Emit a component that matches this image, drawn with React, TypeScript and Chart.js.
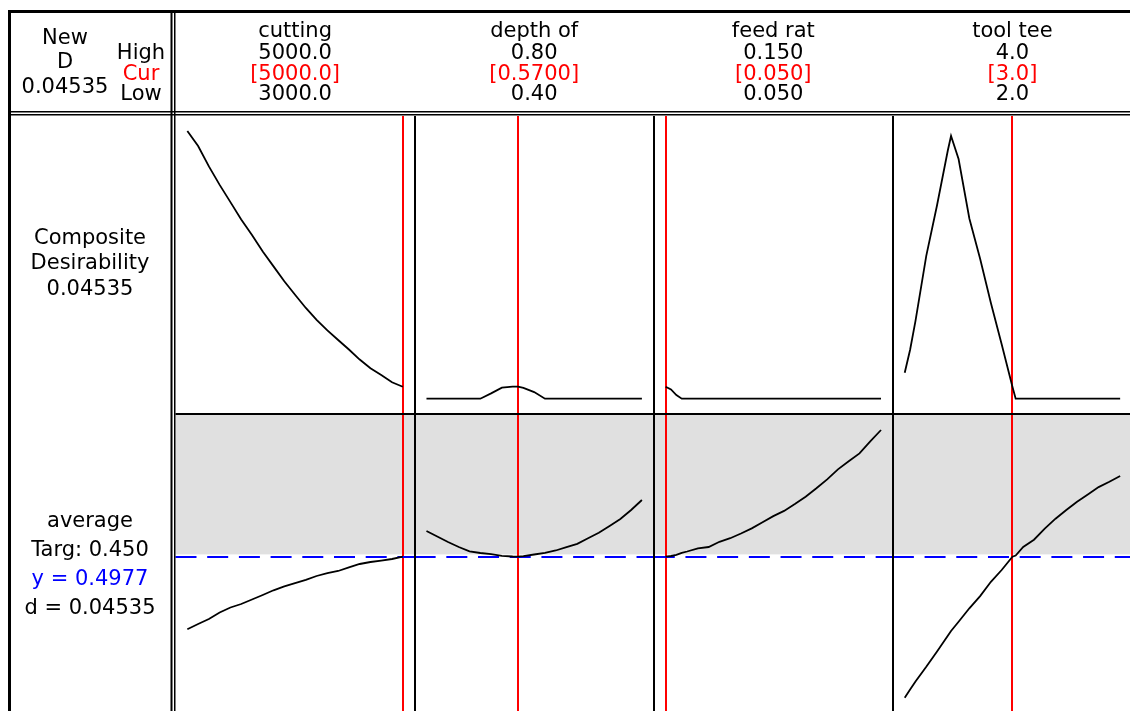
import React, { useEffect, useRef } from 'react';
import { Chart, registerables } from 'chart.js';

Chart.register(...registerables);

// ---- Header / factor info ----
const FACTOR_NAMES = ['cutting', 'depth of', 'feed rat', 'tool tee'];
const HIGH_LABELS = ['5000.0', '0.80', '0.150', '4.0'];
const CUR_LABELS = ['[5000.0]', '[0.5700]', '[0.050]', '[3.0]'];
const LOW_LABELS = ['3000.0', '0.40', '0.050', '2.0'];
const LOWS = [3000, 0.4, 0.05, 2.0];
const HIGHS = [5000, 0.8, 0.15, 4.0];
const CURRENT = [5000, 0.57, 0.05, 3.0];

const NEW_D_LABELS = ['New', 'D', '0.04535'];
const HCL_LABELS = ['High', 'Cur', 'Low'];
const COMPOSITE_LABELS = ['Composite', 'Desirability', '0.04535'];
const RESPONSE_LABELS = ['average', 'Targ: 0.450', 'y = 0.4977', 'd = 0.04535'];

const Y_PRED = 0.4977;
const UPPER_LIMIT = 0.5;

// ---- cutting ----
const CUTTING_X = [3000, 3100, 3200, 3300, 3400, 3500, 3600, 3700, 3800, 3900, 4000, 4100, 4200, 4300, 4400, 4500, 4600, 4700, 4800, 4900, 5000];
const CUTTING_D = [1.012, 0.955, 0.878, 0.808, 0.743, 0.677, 0.619, 0.556, 0.5, 0.444, 0.393, 0.343, 0.298, 0.258, 0.222, 0.186, 0.148, 0.115, 0.09, 0.062, 0.04535];
const CUTTING_AVG = [0.4251, 0.4304, 0.4354, 0.4419, 0.4469, 0.4504, 0.4549, 0.4594, 0.4641, 0.468, 0.4712, 0.4746, 0.4784, 0.4812, 0.4834, 0.4871, 0.4904, 0.4924, 0.4938, 0.4954, 0.4977];

// ---- depth of ----
const DEPTH_X = [0.4, 0.42, 0.44, 0.46, 0.48, 0.5, 0.52, 0.54, 0.56, 0.57, 0.58, 0.6, 0.62, 0.64, 0.66, 0.68, 0.7, 0.72, 0.74, 0.76, 0.78, 0.8];
const DEPTH_D = [0, 0, 0, 0, 0, 0, 0.02, 0.042, 0.0453, 0.04535, 0.041, 0.025, 0, 0, 0, 0, 0, 0, 0, 0, 0, 0];
const DEPTH_AVG = [0.5234, 0.5179, 0.5124, 0.5074, 0.5031, 0.5014, 0.5002, 0.4986, 0.4979, 0.4977, 0.4982, 0.4999, 0.5016, 0.5039, 0.5072, 0.5106, 0.5161, 0.5217, 0.5284, 0.5354, 0.5444, 0.5544];

// ---- feed rat ----
const FEED_X = [0.05, 0.0525, 0.055, 0.0575, 0.06, 0.065, 0.07, 0.075, 0.08, 0.085, 0.09, 0.095, 0.1, 0.105, 0.11, 0.115, 0.12, 0.125, 0.13, 0.135, 0.14, 0.145, 0.15];
const FEED_D = [0.04535, 0.035, 0.014, 0, 0, 0, 0, 0, 0, 0, 0, 0, 0, 0, 0, 0, 0, 0, 0, 0, 0, 0, 0];
const FEED_AVG = [0.4977, 0.4984, 0.4996, 0.5016, 0.5029, 0.5061, 0.5074, 0.5126, 0.5162, 0.5209, 0.526, 0.5322, 0.5383, 0.5435, 0.5503, 0.5577, 0.5661, 0.575, 0.585, 0.5931, 0.601, 0.6131, 0.6244];

// ---- tool tee ----
const TOOL_X = [2.0, 2.05, 2.1, 2.2, 2.3, 2.4, 2.43, 2.5, 2.6, 2.7, 2.8, 2.9, 3.0, 3.03, 3.1, 3.2, 3.3, 3.4, 3.5, 3.6, 3.7, 3.8, 3.9, 4.0];
const TOOL_D = [0.098, 0.185, 0.294, 0.54, 0.731, 0.938, 0.993, 0.906, 0.681, 0.529, 0.362, 0.206, 0.04535, 0, 0, 0, 0, 0, 0, 0, 0, 0, 0, 0];
const TOOL_AVG = [0.3567, 0.3649, 0.373, 0.3876, 0.4029, 0.4187, 0.4234, 0.4327, 0.4461, 0.4583, 0.4726, 0.4844, 0.4977, 0.4988, 0.5074, 0.5147, 0.5258, 0.5357, 0.5444, 0.5527, 0.56, 0.5673, 0.5726, 0.5784];

const X_IDS = ['x0', 'x1', 'x2', 'x3'];
const FONT = '21px "DejaVu Sans", Verdana, sans-serif';

export default function App() {
  const ref = useRef<HTMLCanvasElement>(null);

  useEffect(() => {
    const canvas = ref.current;
    if (!canvas) return;

    const series = [
      { x: CUTTING_X, d: CUTTING_D, y: CUTTING_AVG },
      { x: DEPTH_X, d: DEPTH_D, y: DEPTH_AVG },
      { x: FEED_X, d: FEED_D, y: FEED_AVG },
      { x: TOOL_X, d: TOOL_D, y: TOOL_AVG },
    ];

    const datasets: any[] = [];
    series.forEach((s, i) => {
      const common = {
        xAxisID: X_IDS[i],
        borderColor: '#000000',
        borderWidth: 1.8,
        pointRadius: 0,
        fill: false,
        tension: 0,
      };
      datasets.push({ ...common, yAxisID: 'yD', data: s.x.map((v, k) => ({ x: v, y: s.d[k] })) });
      datasets.push({ ...common, yAxisID: 'yR', data: s.x.map((v, k) => ({ x: v, y: s.y[k] })) });
    });

    const scales: any = {
      yR: { type: 'linear', position: 'left', stack: 'rows', stackWeight: 1, min: 0.3434, max: 0.6409, display: false },
      yD: { type: 'linear', position: 'left', stack: 'rows', stackWeight: 1, min: -0.0559, max: 1.0684, display: false },
    };
    X_IDS.forEach((id, i) => {
      const r = HIGHS[i] - LOWS[i];
      scales[id] = {
        type: 'linear',
        position: 'bottom',
        stack: 'cols',
        stackWeight: 1,
        min: LOWS[i] - 0.055 * r,
        max: HIGHS[i] + 0.055 * r,
        display: false,
      };
    });

    const decor = {
      id: 'decor',
      beforeDraw(chart: any) {
        const ctx = chart.ctx;
        const { left, right } = chart.chartArea;
        ctx.save();
        ctx.fillStyle = '#ffffff';
        ctx.fillRect(0, 0, chart.width, chart.height);
        const yR = chart.scales.yR;
        const yl = yR.getPixelForValue(UPPER_LIMIT);
        ctx.fillStyle = '#e0e0e0';
        ctx.fillRect(left, yR.top, right - left, yl - yR.top);
        ctx.restore();
      },
      beforeDatasetsDraw(chart: any) {
        const ctx = chart.ctx;
        const { top, bottom } = chart.chartArea;
        ctx.save();
        // current-setting lines
        ctx.fillStyle = '#ff0000';
        X_IDS.forEach((id, i) => {
          const xs = chart.scales[id];
          const px = Math.round(xs.getPixelForValue(CURRENT[i]));
          ctx.fillRect(px - 1, top, 2, bottom - top);
        });
        // predicted response dashed line
        const yR = chart.scales.yR;
        const py = Math.round(yR.getPixelForValue(Y_PRED));
        ctx.strokeStyle = '#0000ff';
        ctx.lineWidth = 2;
        ctx.setLineDash([21, 10.7]);
        X_IDS.forEach((id) => {
          const xs = chart.scales[id];
          ctx.beginPath();
          ctx.moveTo(xs.left, py);
          ctx.lineTo(xs.right, py);
          ctx.stroke();
        });
        ctx.restore();
      },
      afterDraw(chart: any) {
        const ctx = chart.ctx;
        const { left, right, top, bottom } = chart.chartArea;
        const W = chart.width;
        ctx.save();
        ctx.fillStyle = '#000000';
        // outer frame
        ctx.fillRect(8, 10, W - 8, 3);
        ctx.fillRect(8, 10, 3, chart.height - 10);
        // left column double line
        ctx.fillRect(170.5, 12, 2, chart.height - 12);
        ctx.fillRect(174, 12, 1.5, chart.height - 12);
        // header bottom double line
        ctx.fillRect(8, 111, W - 8, 1.5);
        ctx.fillRect(8, 114, W - 8, 1.5);
        // panel dividers
        X_IDS.forEach((id, i) => {
          if (i === 0) return;
          const xs = chart.scales[id];
          ctx.fillRect(Math.round(xs.left) - 1, top, 2, bottom - top);
        });
        // row divider
        const yR = chart.scales.yR;
        ctx.fillRect(left, Math.round(yR.top) - 1, right - left, 2);

        // text
        ctx.font = FONT;
        ctx.textAlign = 'center';
        ctx.textBaseline = 'alphabetic';
        const hdrBase = [37, 58.5, 79.5, 100];
        X_IDS.forEach((id, i) => {
          const xs = chart.scales[id];
          const cx = (xs.left + xs.right) / 2;
          ctx.fillStyle = '#000000';
          ctx.fillText(FACTOR_NAMES[i], cx, hdrBase[0]);
          ctx.fillText(HIGH_LABELS[i], cx, hdrBase[1]);
          ctx.fillStyle = '#ff0000';
          ctx.fillText(CUR_LABELS[i], cx, hdrBase[2]);
          ctx.fillStyle = '#000000';
          ctx.fillText(LOW_LABELS[i], cx, hdrBase[3]);
        });
        // left header cell
        const ndBase = [43.5, 68, 93];
        NEW_D_LABELS.forEach((t, k) => {
          ctx.fillStyle = '#000000';
          ctx.fillText(t, 65, ndBase[k]);
        });
        HCL_LABELS.forEach((t, k) => {
          ctx.fillStyle = k === 1 ? '#ff0000' : '#000000';
          ctx.fillText(t, 141, hdrBase[k + 1]);
        });
        // row labels
        const compBase = [243.5, 269, 295];
        COMPOSITE_LABELS.forEach((t, k) => {
          ctx.fillStyle = '#000000';
          ctx.fillText(t, 90, compBase[k]);
        });
        const respBase = [527, 556, 585, 614];
        RESPONSE_LABELS.forEach((t, k) => {
          ctx.fillStyle = k === 2 ? '#0000ff' : '#000000';
          ctx.fillText(t, 90, respBase[k]);
        });
        ctx.restore();
      },
    };

    const chart = new Chart(canvas, {
      type: 'line',
      data: { datasets },
      options: {
        animation: false,
        responsive: false,
        events: [],
        layout: { padding: { left: 175.5, top: 116, right: 0, bottom: 0 } },
        plugins: { legend: { display: false }, tooltip: { enabled: false }, title: { display: false } },
        scales,
      },
      plugins: [decor],
    } as any);

    return () => {
      chart.destroy();
    };
  }, []);

  return (
    <div style={{ position: 'fixed', left: 0, top: 0, width: 1130, height: 711, overflow: 'hidden', background: '#ffffff' }}>
      <canvas ref={ref} width={1132} height={711} style={{ display: 'block', width: 1132, height: 711 }} />
    </div>
  );
}
